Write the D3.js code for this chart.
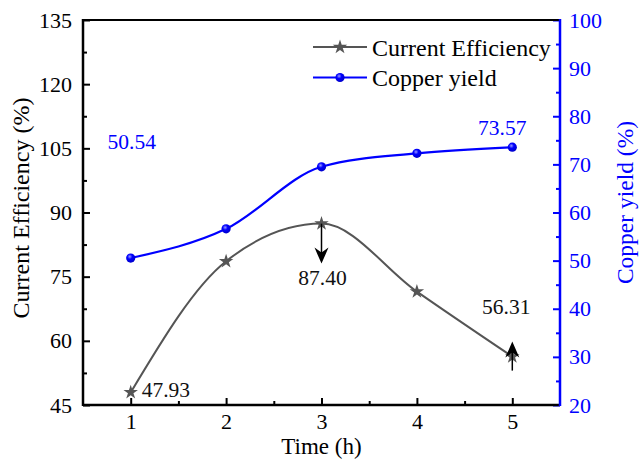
<!DOCTYPE html>
<html><head><meta charset="utf-8">
<script src="https://cdn.jsdelivr.net/npm/d3@7"></script>
<style>body{margin:0;background:#fff}svg{display:block}</style>
</head><body><svg id="c" width="640" height="460"></svg>
<script>
const times = [1, 2, 3, 4, 5];
const currentEfficiency = [47.93, 78.6, 87.40, 71.5, 56.31];
const copperYield = [50.54, 56.6, 69.5, 72.3, 73.57];
const leftTicks = [45, 60, 75, 90, 105, 120, 135];
const rightTicks = [20, 30, 40, 50, 60, 70, 80, 90, 100];
const xTicks = [1, 2, 3, 4, 5];
const seriesNames = ["Current Efficiency", "Copper yield"];

const FONT = "'Times New Roman', 'Liberation Serif', 'DejaVu Serif', serif";
const svg = d3.select("#c").style("font-family", FONT);
const L = 83, R = 560, T = 20, B = 405;
const x = d3.scaleLinear().domain([0.5, 5.5]).range([L, R]);
const yL = d3.scaleLinear().domain([45, 135]).range([B, T]);
const yR = d3.scaleLinear().domain([20, 100]).range([B, T]);
const gray = "#555555", blue = "#0000ff";

const bx = svg.append("g").attr("transform", `translate(0,${B})`)
  .call(d3.axisBottom(x).tickValues(xTicks).tickSize(-7).tickPadding(8).tickFormat(d3.format("d")));
bx.select(".domain").remove();
const bMinor = svg.append("g").attr("transform", `translate(0,${B})`)
  .call(d3.axisBottom(x).tickValues([1.5, 2.5, 3.5, 4.5]).tickSize(-4).tickFormat(""));
bMinor.select(".domain").remove();

const lx = svg.append("g").attr("transform", `translate(${L},0)`)
  .call(d3.axisLeft(yL).tickValues(leftTicks).tickSize(-7).tickPadding(11));
lx.select(".domain").remove();
const lMinor = svg.append("g").attr("transform", `translate(${L},0)`)
  .call(d3.axisLeft(yL).tickValues(d3.range(52.5, 135, 15)).tickSize(-4).tickFormat(""));
lMinor.select(".domain").remove();

const rx = svg.append("g").attr("transform", `translate(${R},0)`)
  .call(d3.axisRight(yR).tickValues(rightTicks).tickSize(-7).tickPadding(9));
rx.select(".domain").remove();
const rMinor = svg.append("g").attr("transform", `translate(${R},0)`)
  .call(d3.axisRight(yR).tickValues(d3.range(25, 100, 10)).tickSize(-4).tickFormat(""));
rMinor.select(".domain").remove();

[bx, bMinor, lx, lMinor, rx, rMinor].forEach(g => g.attr("font-family", null).attr("font-size", 22));
[bx, bMinor, lx, lMinor].forEach(g => g.selectAll("line").attr("stroke", "#000").attr("stroke-width", 2));
[rx, rMinor].forEach(g => g.selectAll("line").attr("stroke", blue).attr("stroke-width", 2));
[bx, lx].forEach(g => g.selectAll("text").attr("fill", "#000"));
rx.selectAll("text").attr("fill", blue);

// frame
svg.append("line").attr("x1", L).attr("x2", R).attr("y1", T).attr("y2", T).attr("stroke", "#000").attr("stroke-width", 2);
svg.append("line").attr("x1", L).attr("x2", R).attr("y1", B).attr("y2", B).attr("stroke", "#000").attr("stroke-width", 2.5);
svg.append("line").attr("x1", L).attr("x2", L).attr("y1", T - 1).attr("y2", B + 1).attr("stroke", "#000").attr("stroke-width", 2.5);
svg.append("line").attr("x1", R).attr("x2", R).attr("y1", T - 1).attr("y2", B + 1).attr("stroke", blue).attr("stroke-width", 2.5);

function txt(xp, yp, s, color, anchor, size) {
  return svg.append("text").attr("x", xp).attr("y", yp).attr("font-size", size || 21.5)
    .attr("fill", color).attr("text-anchor", anchor || "start").text(s);
}

// axis titles
svg.append("text").attr("transform", `translate(29,208) rotate(-90)`).attr("text-anchor", "middle")
  .attr("font-size", 24).attr("fill", "#000").text("Current Efficiency (%)");
svg.append("text").attr("transform", `translate(633,202.5) rotate(-90)`).attr("text-anchor", "middle")
  .attr("font-size", 23.5).attr("fill", blue).text("Copper yield (%)");
txt((L + R) / 2, 454, "Time (h)", "#000", "middle", 23);

// lines
const ceData = times.map((t, i) => [t, currentEfficiency[i]]);
const cyData = times.map((t, i) => [t, copperYield[i]]);
svg.append("path").attr("d", d3.line().x(d => x(d[0])).y(d => yL(d[1])).curve(d3.curveMonotoneX)(ceData))
  .attr("fill", "none").attr("stroke", gray).attr("stroke-width", 2);
svg.append("path").attr("d", d3.line().x(d => x(d[0])).y(d => yR(d[1])).curve(d3.curveMonotoneX)(cyData))
  .attr("fill", "none").attr("stroke", blue).attr("stroke-width", 2.2);

const defs = svg.append("defs");
const rg = defs.append("radialGradient").attr("id", "ball").attr("cx", "40%").attr("cy", "35%").attr("r", "60%");
rg.append("stop").attr("offset", "0%").attr("stop-color", "#9a9aff");
rg.append("stop").attr("offset", "45%").attr("stop-color", blue);
rg.append("stop").attr("offset", "100%").attr("stop-color", "#0000d0");

const star = d3.symbol().type(d3.symbolStar).size(65);
svg.selectAll(".ce").data(ceData).join("path").attr("class", "ce")
  .attr("transform", d => `translate(${x(d[0])},${yL(d[1])})`).attr("d", star).attr("fill", gray);
svg.selectAll(".cy").data(cyData).join("circle").attr("class", "cy")
  .attr("cx", d => x(d[0])).attr("cy", d => yR(d[1])).attr("r", 4.6).attr("fill", "url(#ball)");

// value labels
const fmt = d3.format(".2f");
txt(x(1) + 11, yL(currentEfficiency[0]) + 5, fmt(currentEfficiency[0]), "#111");
txt(x(3) + 1, yL(currentEfficiency[2]) + 61, fmt(currentEfficiency[2]), "#111", "middle");
txt(x(5) - 6, yL(currentEfficiency[4]) - 43, fmt(currentEfficiency[4]), "#111", "middle");
txt(x(1) + 1, yR(copperYield[0]) - 109, fmt(copperYield[0]), blue, "middle");
txt(x(5) - 10, yR(copperYield[4]) - 12, fmt(copperYield[4]), blue, "middle");

// arrows
function arrow(x0, y0, y1) {
  const dir = Math.sign(y1 - y0);
  svg.append("line").attr("x1", x0).attr("x2", x0).attr("y1", y0).attr("y2", y1 - dir * 10).attr("stroke", "#000").attr("stroke-width", 1.5);
  svg.append("path").attr("d", `M${x0},${y1} L${x0 - 7},${y1 - dir * 16} L${x0},${y1 - dir * 11} L${x0 + 7},${y1 - dir * 16} Z`).attr("fill", "#000");
}
arrow(x(3), yL(currentEfficiency[2]), yL(currentEfficiency[2]) + 40);
arrow(x(5), yL(currentEfficiency[4]) + 14, yL(currentEfficiency[4]) - 15);

// legend
const lg = svg.append("g");
[[gray, 47, "star"], [blue, 77.5, "circle"]].forEach((s, i) => {
  lg.append("line").attr("x1", 313).attr("x2", 367).attr("y1", s[1]).attr("y2", s[1]).attr("stroke", s[0]).attr("stroke-width", 2);
  if (s[2] === "star") lg.append("path").attr("transform", `translate(340,${s[1]})`).attr("d", star).attr("fill", gray);
  else lg.append("circle").attr("cx", 340).attr("cy", s[1]).attr("r", 4.6).attr("fill", "url(#ball)");
  txt(372, s[1] + 8.5, seriesNames[i], "#000", "start", 24);
});
</script></body></html>
